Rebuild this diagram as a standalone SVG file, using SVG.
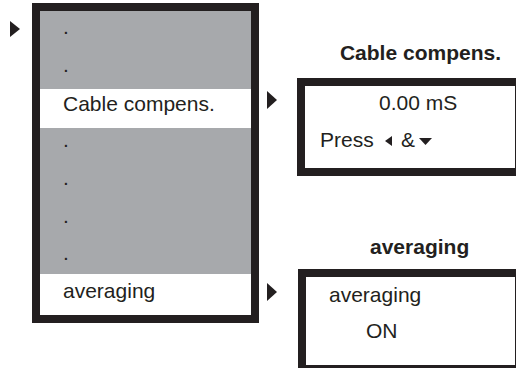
<svg xmlns="http://www.w3.org/2000/svg" width="516" height="368" viewBox="0 0 516 368">
<style>
.frame{fill:none;stroke:#231f20;stroke-width:8}
.t{font-family:"Liberation Sans",Arial,sans-serif;font-size:21px;fill:#231f20}
.b{font-weight:bold}
.arr{fill:#231f20}
.gray{fill:#a7a9ac}
</style>
<rect width="516" height="368" fill="#ffffff"/>
<g id="menu">
<rect class="gray" x="40" y="11" width="211" height="78"/>
<rect x="40" y="89" width="211" height="39" fill="#ffffff"/>
<rect class="gray" x="40" y="128" width="211" height="146"/>
<rect x="40" y="274" width="211" height="41" fill="#ffffff"/>
<rect class="frame" x="36" y="7" width="219" height="312"/>
<text class="t" x="63" y="34">.</text>
<text class="t" x="63" y="72">.</text>
<text class="t" x="63" y="111">Cable compens.</text>
<text class="t" x="63" y="147">.</text>
<text class="t" x="63" y="185">.</text>
<text class="t" x="63" y="223">.</text>
<text class="t" x="63" y="260">.</text>
<text class="t" x="63" y="298">averaging</text>
</g>
<g id="connectors">
<polygon class="arr" points="10,21 20,29 10,37"/>
<polygon class="arr" points="267,91 277,100 267,109"/>
<polygon class="arr" points="267,283 277,292 267,301"/>
</g>
<g id="cable">
<text class="t b" x="501" y="60" text-anchor="end">Cable compens.</text>
<rect class="frame" x="301" y="82" width="218" height="90"/>
<text class="t" x="379" y="110">0.00 mS</text>
<text class="t" x="320" y="147">Press</text>
<polygon class="arr" points="392,136 392,146 385,141"/>
<text class="t" x="401" y="147">&amp;</text>
<polygon class="arr" points="419,138 432,138 425.5,145"/>
</g>
<g id="averaging">
<text class="t b" x="370" y="254">averaging</text>
<rect class="frame" x="302" y="273" width="217" height="96"/>
<text class="t" x="329" y="302">averaging</text>
<text class="t" x="366" y="338">ON</text>
</g>
</svg>
